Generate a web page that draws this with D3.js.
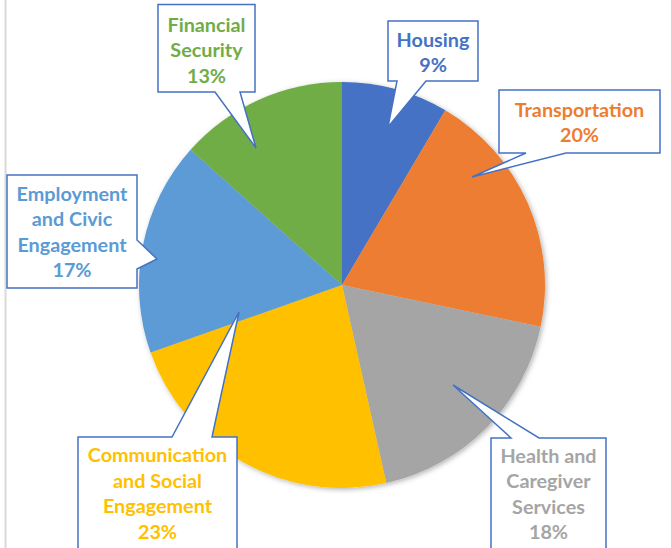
<!DOCTYPE html>
<html>
<head>
<meta charset="utf-8">
<script src="https://cdn.jsdelivr.net/npm/d3@7"></script>
<style>
  html, body { margin: 0; padding: 0; background: #ffffff; }
  svg { display: block; }
</style>
</head>
<body>
<svg id="chart" width="671" height="548"></svg>
<script>
// ---- data ----
const categories = ["Housing", "Transportation", "Health and Caregiver Services",
  "Communication and Social Engagement", "Employment and Civic Engagement", "Financial Security"];
const labelLines = [
  ["Housing"],
  ["Transportation"],
  ["Health and", "Caregiver", "Services"],
  ["Communication", "and Social", "Engagement"],
  ["Employment", "and Civic", "Engagement"],
  ["Financial", "Security"]
];
const values = [8.5, 19.8, 18.2, 23.1, 17.0, 13.4];
const colors = ["#4472C4", "#ED7D31", "#A5A5A5", "#FFC000", "#5B9BD5", "#70AD47"];

// ---- layout (callout boxes: annotation geometry) ----
const callouts = [
  { box: [388, 21, 478, 81],   side: "bottom", base: [397, 426], tip: [388, 127], y: 46.7 },
  { box: [499, 90, 660, 153],  side: "bottom", base: [526, 566], tip: [472, 177], y: 116.7 },
  { box: [491, 438, 606, 570], side: "top",    base: [511, 539], tip: [453, 385], y: 462.7 },
  { box: [78, 437, 237, 570],  side: "top",    base: [172, 212], tip: [239, 312], y: 462.3 },
  { box: [7, 175, 137, 288],   side: "right",  base: [240, 269], tip: [157, 259], y: 200.7 },
  { box: [158, 4.5, 255, 92],  side: "bottom", base: [215, 240], tip: [256, 148], y: 31.7 }
];

const svg = d3.select("#chart");
const cx = 342, cy = 285, R = 203;

// left gray rule
svg.append("rect").attr("x", 4.5).attr("y", 0).attr("width", 2).attr("height", 548).attr("fill", "#D9D9D9");

const defs = svg.append("defs");
const f = defs.append("filter").attr("id", "shadow").attr("x", "-20%").attr("y", "-20%").attr("width", "140%").attr("height", "140%");
f.append("feDropShadow").attr("dx", 1.5).attr("dy", 1.5).attr("stdDeviation", 2.5)
  .attr("flood-color", "#000").attr("flood-opacity", 0.3);

const pie = d3.pie().sort(null).value(d => d)(values);
const arc = d3.arc().innerRadius(0).outerRadius(R);

const g = svg.append("g").attr("transform", `translate(${cx},${cy})`);
g.append("g").attr("filter", "url(#shadow)")
  .selectAll("path").data(pie).join("path")
  .attr("d", arc)
  .attr("fill", (d, i) => colors[i]);

// callouts
const lh = 25.4;
const font = "Lato, 'Open Sans', sans-serif";
callouts.forEach((c, i) => {
  const [x0, y0, x1, y1] = c.box;
  let p;
  if (c.side === "bottom") {
    p = `M${x0},${y0}H${x1}V${y1}H${c.base[1]}L${c.tip[0]},${c.tip[1]}L${c.base[0]},${y1}H${x0}Z`;
  } else if (c.side === "top") {
    p = `M${x0},${y0}H${c.base[0]}L${c.tip[0]},${c.tip[1]}L${c.base[1]},${y0}H${x1}V${y1}H${x0}Z`;
  } else {
    p = `M${x0},${y0}H${x1}V${c.base[0]}L${c.tip[0]},${c.tip[1]}L${x1},${c.base[1]}V${y1}H${x0}Z`;
  }
  svg.append("path").attr("d", p).attr("fill", "#fff")
    .attr("stroke", "#4472C4").attr("stroke-width", 1.5).attr("stroke-linejoin", "miter");
  const lines = labelLines[i].concat([Math.round(values[i]) + "%"]);
  const t = svg.append("text")
    .attr("text-anchor", "middle")
    .attr("font-family", font).attr("font-weight", 700).attr("font-size", 19.8)
    .attr("fill", colors[i]);
  lines.forEach((ln, k) => {
    t.append("tspan").attr("x", (x0 + x1) / 2).attr("y", c.y + k * lh).text(ln);
  });
});
</script>
</body>
</html>
